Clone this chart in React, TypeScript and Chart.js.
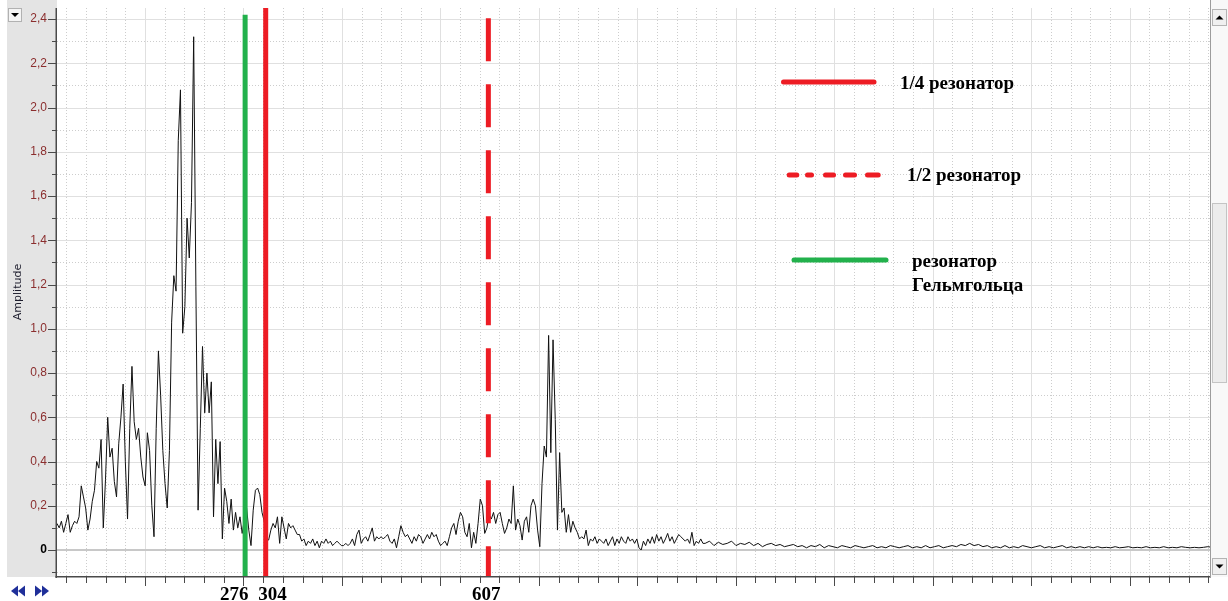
import React, { useEffect, useRef } from 'react';
import { Chart, registerables } from 'chart.js';

Chart.register(...registerables);

const CANVAS_W = 1228;
const CANVAS_H = 601;

// Amplitude spectrum, low band: uniform 3 Hz bins starting at 20 Hz
const lowBandStartHz = 20;
const lowBandStepHz = 3;
const lowBandAmp = [
  0.12, 0.10, 0.13, 0.08, 0.12, 0.16, 0.08, 0.11, 0.13, 0.12,
  0.15, 0.29, 0.24, 0.19, 0.09, 0.14, 0.22, 0.27, 0.40, 0.37,
  0.50, 0.10, 0.32, 0.60, 0.42, 0.46, 0.31, 0.24, 0.48, 0.60,
  0.75, 0.40, 0.14, 0.55, 0.83, 0.58, 0.50, 0.55, 0.42, 0.33,
  0.29, 0.53, 0.45, 0.20, 0.06, 0.55, 0.90, 0.70, 0.45, 0.30,
  0.19, 0.45, 1.03, 1.24, 1.17, 1.85, 2.08, 0.98, 1.10, 1.50,
  1.32, 1.57, 2.32, 1.19, 0.18, 0.55, 0.92, 0.62, 0.80, 0.62,
  0.76, 0.15, 0.50, 0.30, 0.49, 0.05, 0.28, 0.22, 0.12, 0.23,
  0.09, 0.17, 0.10, 0.15, 0.075, 0.14, 0.19, 0.09, 0.02, 0.18,
  0.27, 0.28, 0.25, 0.17, 0.13, 0.05, 0.045, 0.09, 0.12, 0.10,
  0.15, 0.03, 0.15, 0.10, 0.05, 0.12, 0.10, 0.11, 0.09, 0.07,
  0.07, 0.04, 0.05, 0.02, 0.04, 0.03, 0.05, 0.02, 0.04, 0.01,
  0.04, 0.03, 0.05, 0.03, 0.04, 0.02, 0.03, 0.04, 0.03, 0.02,
  0.02, 0.03, 0.02, 0.03, 0.05, 0.02, 0.07, 0.09, 0.03, 0.05,
  0.06, 0.04, 0.07, 0.10, 0.04, 0.06, 0.05, 0.06, 0.05, 0.06,
  0.07, 0.04, 0.03, 0.05, 0.01, 0.06, 0.11, 0.08, 0.06, 0.07,
  0.05, 0.03, 0.06, 0.04, 0.07, 0.06, 0.03, 0.05, 0.07, 0.05,
  0.08, 0.06, 0.07, 0.04, 0.02, 0.03, 0.04, 0.02, 0.06, 0.10,
  0.12, 0.07, 0.13, 0.17, 0.15, 0.08, 0.06, 0.12, 0.01, 0.08,
  0.03, 0.12, 0.23, 0.20, 0.075, 0.10, 0.16, 0.14, 0.17, 0.12,
  0.16, 0.17, 0.12, 0.075, 0.10, 0.14, 0.12, 0.29, 0.09, 0.14,
  0.11, 0.045, 0.13, 0.15, 0.08, 0.20, 0.23, 0.20, 0.09, 0.015,
  0.30, 0.47, 0.42, 0.97, 0.44, 0.95, 0.59, 0.09, 0.44, 0.17,
  0.19, 0.08, 0.16, 0.08, 0.13, 0.10, 0.08, 0.05, 0.06, 0.05,
  0.09, 0.02, 0.05, 0.04, 0.06, 0.03, 0.05, 0.04, 0.03, 0.05,
  0.02, 0.04, 0.06, 0.02, 0.05, 0.03, 0.06, 0.04, 0.03, 0.06,
  0.04, 0.05, 0.03, 0.05, 0.01, 0.00, 0.04, 0.02, 0.05, 0.03,
  0.06, 0.03, 0.07, 0.04, 0.06, 0.03, 0.05, 0.075, 0.04, 0.06,
  0.03, 0.05, 0.07, 0.06, 0.05, 0.04, 0.05, 0.03, 0.08, 0.02,
  0.04, 0.03, 0.05, 0.03,
];

// Amplitude spectrum, high band: uniform 6 Hz bins starting at 902 Hz
const highBandStartHz = 902;
const highBandStepHz = 6;
const highBandAmp = [
  0.03, 0.04, 0.02, 0.035, 0.025, 0.03, 0.04, 0.02, 0.03, 0.025,
  0.035, 0.02, 0.03, 0.015, 0.025, 0.03, 0.02, 0.025, 0.015, 0.02,
  0.025, 0.015, 0.02, 0.01, 0.02, 0.015, 0.025, 0.01, 0.02, 0.015,
  0.01, 0.02, 0.015, 0.01, 0.02, 0.015, 0.01, 0.015, 0.02, 0.01,
  0.015, 0.01, 0.02, 0.015, 0.01, 0.015, 0.02, 0.01, 0.015, 0.01,
  0.02, 0.01, 0.015, 0.02, 0.01, 0.015, 0.02, 0.015, 0.025, 0.02,
  0.03, 0.02, 0.025, 0.015, 0.02, 0.01, 0.015, 0.01, 0.02, 0.01,
  0.015, 0.01, 0.02, 0.015, 0.01, 0.015, 0.02, 0.01, 0.015, 0.01,
  0.015, 0.02, 0.01, 0.015, 0.01, 0.015, 0.01, 0.015, 0.01, 0.015,
  0.01, 0.012, 0.01, 0.015, 0.01, 0.012, 0.015, 0.01, 0.012, 0.01,
  0.015, 0.01, 0.012, 0.01, 0.015, 0.01, 0.012, 0.01, 0.015, 0.012,
  0.01, 0.012, 0.01, 0.012, 0.015, 0.012,
];

// Resonance frequencies (Hz) marked on the plot
const helmholtzHz = 276;
const quarterWaveHz = 304;
const halfWaveHz = 607;

// Upper ends of the marker lines (amplitude units)
const helmholtzTopAmp = 2.42;
const halfWaveTopAmp = 2.404;

// Axis ranges
const freqMinHz = 20;
const freqMaxHz = 1589;
const ampMin = -0.1175;
const ampMax = 2.45;
const markerBottomAmp = -0.125;

// Y axis ticks: labelled majors and unlabelled minors
const yLabelTicks = [0, 0.2, 0.4, 0.6, 0.8, 1.0, 1.2, 1.4, 1.6, 1.8, 2.0, 2.2, 2.4];
const yMinorTicks = [-0.1, 0.1, 0.3, 0.5, 0.7, 0.9, 1.1, 1.3, 1.5, 1.7, 1.9, 2.1, 2.3];

// X axis tick marks (unlabelled)
const xTickOriginHz = 139.7;
const xTickStepHz = 26.8;
const xTicksPerMajor = 5;

const RED = '#ed1c24';
const GREEN = '#22b14c';
const TICK_RED = '#8b2e2e';

function xTickList() {
  const out: { f: number; major: boolean }[] = [];
  const kStart = Math.ceil((freqMinHz - xTickOriginHz) / xTickStepHz);
  const kEnd = Math.floor((freqMaxHz - xTickOriginHz) / xTickStepHz);
  for (let k = kStart; k <= kEnd; k++) {
    out.push({
      f: xTickOriginHz + k * xTickStepHz,
      major: ((k % xTicksPerMajor) + xTicksPerMajor) % xTicksPerMajor === 0,
    });
  }
  return out;
}

function seg(ctx: CanvasRenderingContext2D, x1: number, y1: number, x2: number, y2: number) {
  ctx.beginPath();
  ctx.moveTo(x1, y1);
  ctx.lineTo(x2, y2);
  ctx.stroke();
}

function tri(ctx: CanvasRenderingContext2D, pts: number[][]) {
  ctx.beginPath();
  ctx.moveTo(pts[0][0], pts[0][1]);
  for (let i = 1; i < pts.length; i++) ctx.lineTo(pts[i][0], pts[i][1]);
  ctx.closePath();
  ctx.fill();
}

// Keep the plot area fixed: no extra room reserved for half-label overhang
function zeroPadding(s: any) {
  s.paddingTop = 0;
  s.paddingBottom = 0;
  s.paddingLeft = 0;
  s.paddingRight = 0;
}

const decorPlugin = {
  id: 'decor',
  beforeDraw(chart: any) {
    const { ctx, chartArea } = chart;
    ctx.save();
    ctx.fillStyle = '#ffffff';
    ctx.fillRect(0, 0, CANVAS_W, CANVAS_H);
    // grey side panel behind the value axis
    ctx.fillStyle = '#e4e4e4';
    ctx.fillRect(7, 0, chartArea.left - 7, chartArea.bottom + 1);
    ctx.restore();
  },
  beforeDatasetsDraw(chart: any) {
    const { ctx, chartArea, scales } = chart;
    const { left, right, top, bottom } = chartArea;
    const xs = scales.x;
    const ys = scales.y;
    const ticks = xTickList();
    ctx.save();
    ctx.beginPath();
    ctx.rect(left, top, right - left, bottom - top);
    ctx.clip();
    ctx.lineWidth = 1;

    // dotted minor grid
    ctx.strokeStyle = '#cdcdcd';
    ctx.setLineDash([1, 2]);
    for (const v of yMinorTicks) {
      const py = Math.round(ys.getPixelForValue(v)) + 0.5;
      seg(ctx, left, py, right, py);
    }
    for (const t of ticks) {
      if (t.major) continue;
      const px = Math.round(xs.getPixelForValue(t.f)) + 0.5;
      seg(ctx, px, top, px, bottom);
    }

    // light major grid
    ctx.setLineDash([]);
    ctx.strokeStyle = '#e0e0e0';
    for (const v of yLabelTicks) {
      if (v === 0) continue;
      const py = Math.round(ys.getPixelForValue(v)) + 0.5;
      seg(ctx, left, py, right, py);
    }
    for (const t of ticks) {
      if (!t.major) continue;
      const px = Math.round(xs.getPixelForValue(t.f)) + 0.5;
      seg(ctx, px, top, px, bottom);
    }

    // zero line
    ctx.strokeStyle = '#c8c8c8';
    ctx.lineWidth = 2;
    const py0 = Math.round(ys.getPixelForValue(0));
    seg(ctx, left, py0, right, py0);
    ctx.restore();
  },
  afterDraw(chart: any) {
    const { ctx, chartArea, scales } = chart;
    const { left, right, top, bottom } = chartArea;
    const xs = scales.x;
    const ys = scales.y;
    ctx.save();

    // axis lines and tick marks
    ctx.fillStyle = '#4a4a4a';
    ctx.fillRect(left - 1.5, top, 1.5, bottom - top + 2);
    ctx.fillRect(left - 1.5, bottom, right - left + 1.5, 1.5);
    for (const v of yLabelTicks) {
      const py = Math.round(ys.getPixelForValue(v));
      ctx.fillRect(left - 9, py, 8, 1);
    }
    for (const v of yMinorTicks) {
      const py = Math.round(ys.getPixelForValue(v));
      ctx.fillRect(left - 5, py, 4, 1);
    }
    for (const t of xTickList()) {
      const px = Math.round(xs.getPixelForValue(t.f));
      ctx.fillRect(px, bottom + 1, 1, t.major ? 9 : 6);
    }

    // axis title
    ctx.save();
    ctx.translate(18, 292);
    ctx.rotate(-Math.PI / 2);
    ctx.fillStyle = '#1e1e2e';
    ctx.font = '11px "DejaVu Sans"';
    ctx.textAlign = 'center';
    ctx.textBaseline = 'middle';
    ctx.fillText('Amplitude', 0, 0);
    ctx.restore();

    // vertical scrollbar on the right
    const sbX = right + 1;
    const sbW = CANVAS_W - sbX;
    ctx.fillStyle = '#f8f8f8';
    ctx.fillRect(sbX, 0, sbW, bottom + 1);
    ctx.fillStyle = '#9c9c9c';
    ctx.fillRect(right, 0, 1, bottom + 2);
    ctx.fillStyle = '#ececec';
    ctx.fillRect(sbX + 1, 203, sbW - 2, 180);
    ctx.strokeStyle = '#c4c4c4';
    ctx.lineWidth = 1;
    ctx.strokeRect(sbX + 1.5, 203.5, sbW - 3, 179);
    const btn = (y0: number, up: boolean) => {
      ctx.fillStyle = '#f0f0f0';
      ctx.fillRect(sbX + 1, y0, sbW - 2, 17);
      ctx.strokeStyle = '#b4b4b4';
      ctx.strokeRect(sbX + 1.5, y0 + 0.5, sbW - 3, 16);
      const cx = sbX + sbW / 2;
      const cy = y0 + 8.5;
      ctx.fillStyle = '#000';
      if (up) tri(ctx, [[cx - 4, cy + 2], [cx + 4, cy + 2], [cx, cy - 2]]);
      else tri(ctx, [[cx - 4, cy - 2], [cx + 4, cy - 2], [cx, cy + 2]]);
    };
    btn(9, true);
    btn(558, false);

    // drop-down button in the top-left corner
    ctx.fillStyle = '#f4f4f4';
    ctx.fillRect(8, 8, 14, 14);
    ctx.strokeStyle = '#6e6e6e';
    ctx.setLineDash([1, 1]);
    ctx.strokeRect(8.5, 8.5, 13, 13);
    ctx.setLineDash([]);
    ctx.fillStyle = '#000';
    tri(ctx, [[11, 13], [19, 13], [15, 17]]);

    // scroll arrows at the bottom-left
    ctx.fillStyle = '#1f2f99';
    tri(ctx, [[11, 591], [18, 585.5], [18, 596.5]]);
    tri(ctx, [[18, 591], [25, 585.5], [25, 596.5]]);
    tri(ctx, [[35, 585.5], [42, 591], [35, 596.5]]);
    tri(ctx, [[42, 585.5], [49, 591], [42, 596.5]]);

    // legend
    ctx.lineWidth = 5;
    ctx.lineCap = 'round';
    ctx.strokeStyle = RED;
    seg(ctx, 783.5, 82, 874, 82);
    const dashSegs = [[786.7, 799.3], [805, 814], [823, 836], [843, 857], [865, 880.7]];
    for (const [a, b] of dashSegs) seg(ctx, a + 2.5, 175, b - 2.5, 175);
    ctx.strokeStyle = GREEN;
    seg(ctx, 794, 260, 886, 260);
    ctx.lineCap = 'butt';

    ctx.fillStyle = '#000';
    ctx.font = 'bold 19px "Liberation Serif"';
    ctx.textAlign = 'left';
    ctx.textBaseline = 'alphabetic';
    ctx.fillText('1/4 резонатор', 900, 89);
    ctx.fillText('1/2 резонатор', 907, 181);
    ctx.fillText('резонатор', 912, 267);
    ctx.fillText('Гельмгольца', 912, 291);

    // frequency labels under the marker lines
    ctx.font = 'bold 19px "Liberation Serif"';
    ctx.textAlign = 'right';
    ctx.fillText(String(helmholtzHz), xs.getPixelForValue(helmholtzHz) + 3.5, 600);
    ctx.textAlign = 'left';
    ctx.fillText(String(quarterWaveHz), xs.getPixelForValue(quarterWaveHz) - 7.5, 600);
    ctx.textAlign = 'center';
    ctx.fillText(String(halfWaveHz), xs.getPixelForValue(halfWaveHz) - 2, 600);

    ctx.restore();
  },
};

function buildConfig(): any {
  const spectrum = [
    ...lowBandAmp.map((a, i) => ({ x: lowBandStartHz + i * lowBandStepHz, y: a })),
    ...highBandAmp.map((a, i) => ({ x: highBandStartHz + i * highBandStepHz, y: a })),
  ];
  const marker = (hz: number, topAmp: number, color: string, dash: number[]) => ({
    data: [
      { x: hz, y: topAmp },
      { x: hz, y: markerBottomAmp },
    ],
    borderColor: color,
    borderWidth: 5,
    borderDash: dash,
    borderCapStyle: 'butt',
    pointRadius: 0,
    fill: false,
    order: 1,
  });
  return {
    type: 'line',
    data: {
      datasets: [
        {
          data: spectrum,
          borderColor: '#111111',
          borderWidth: 1,
          pointRadius: 0,
          tension: 0,
          fill: false,
          order: 2,
        },
        marker(helmholtzHz, helmholtzTopAmp, GREEN, []),
        marker(quarterWaveHz, ampMax, RED, []),
        marker(halfWaveHz, halfWaveTopAmp, RED, [43, 23]),
      ],
    },
    options: {
      animation: false,
      responsive: false,
      devicePixelRatio: 1,
      events: [],
      layout: { padding: { left: 0, right: 18, top: 8, bottom: 0 } },
      plugins: { legend: { display: false }, tooltip: { enabled: false } },
      scales: {
        x: {
          type: 'linear',
          min: freqMinHz,
          max: freqMaxHz,
          grid: { display: false, drawTicks: false },
          border: { display: false },
          ticks: { display: false },
          afterFit: (s: any) => {
            s.height = 25;
            zeroPadding(s);
          },
        },
        y: {
          type: 'linear',
          min: ampMin,
          max: ampMax,
          grid: { display: false, drawTicks: false },
          border: { display: false },
          afterBuildTicks: (s: any) => {
            s.ticks = yLabelTicks.map((v) => ({ value: v }));
          },
          afterFit: (s: any) => {
            s.width = 57;
            zeroPadding(s);
          },
          ticks: {
            padding: 10,
            autoSkip: false,
            color: (c: any) => (c.tick && c.tick.value === 0 ? '#000000' : TICK_RED),
            font: (c: any) =>
              c.tick && c.tick.value === 0
                ? { family: '"Liberation Sans"', size: 12, weight: 'bold' }
                : { family: '"Liberation Sans"', size: 12 },
            callback: (v: number) => (v === 0 ? '0' : v.toFixed(1).replace('.', ',')),
          },
        },
      },
    },
    plugins: [decorPlugin],
  };
}

export default function App() {
  const canvasRef = useRef<HTMLCanvasElement>(null);
  useEffect(() => {
    const chart = new Chart(canvasRef.current as HTMLCanvasElement, buildConfig());
    return () => chart.destroy();
  }, []);
  return (
    <div
      style={{
        position: 'absolute',
        left: 0,
        top: 0,
        width: CANVAS_W,
        height: CANVAS_H,
        background: '#ffffff',
        overflow: 'hidden',
      }}
    >
      <canvas ref={canvasRef} width={CANVAS_W} height={CANVAS_H} style={{ display: 'block' }} />
    </div>
  );
}
